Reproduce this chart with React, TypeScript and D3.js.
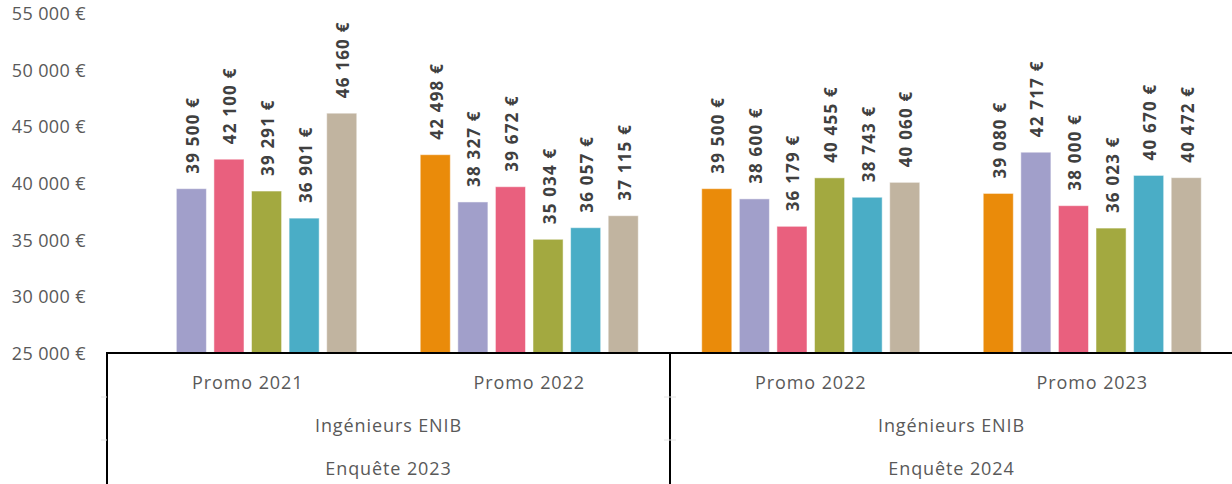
import React from "react";
import * as d3 from "d3";

const promoLabels = ["Promo 2021", "Promo 2022", "Promo 2022", "Promo 2023"];
const populationLabels = ["Ingénieurs ENIB", "Ingénieurs ENIB"];
const surveyLabels = ["Enquête 2023", "Enquête 2024"];
const seriesColors = ["#EA8B0A", "#A19FCA", "#E9607E", "#A3A940", "#4AADC6", "#C1B4A0"];

const group1 = [null, 39500, 42100, 39291, 36901, 46160];
const group2 = [42498, 38327, 39672, 35034, 36057, 37115];
const group3 = [39500, 38600, 36179, 40455, 38743, 40060];
const group4 = [39080, 42717, 38000, 36023, 40670, 40472];
const groups: (number | null)[][] = [group1, group2, group3, group4];

const yTicks = [25000, 30000, 35000, 40000, 45000, 50000, 55000];

const W = 1232;
const H = 484;
const FONT = "'Open Sans', 'Noto Sans', sans-serif";

const fmt = (v: number) => {
  const s = String(Math.round(v));
  return s.replace(/\B(?=(\d{3})+(?!\d))/g, " ") + " €";
};

export default function App() {
  const left = 107;
  const right = 1233;
  const axisY = 353;
  const y = d3.scaleLinear().domain([25000, 55000]).range([axisY, 13]);
  const xg = d3.scaleBand<number>().domain(d3.range(groups.length)).range([left, right]).paddingInner(0).paddingOuter(0);
  const xs = d3.scaleBand<number>().domain(d3.range(6)).range([0, xg.bandwidth()]).paddingInner(0.2).paddingOuter(0.844);

  const row1Y = 382;
  const row2Y = 425;
  const row3Y = 468;
  const catStyle = { fontSize: 18, letterSpacing: "0.9px" } as const;

  return (
    <svg width={W} height={H} style={{ position: "absolute", left: 0, top: 0, background: "#fff" }} fontFamily={FONT}>
      {yTicks.map((t) => (
        <text key={t} x={86} y={y(t)} textAnchor="end" dominantBaseline="central" fontSize={18} letterSpacing="0.4px" fill="#595959">
          {fmt(t)}
        </text>
      ))}
      {groups.map((vals, gi) =>
        vals.map((v, si) => {
          if (v == null) return null;
          const x0 = (xg(gi) as number) + (xs(si) as number);
          const bw = xs.bandwidth();
          const top = y(v);
          return (
            <g key={`${gi}-${si}`}>
              <rect x={x0} y={top} width={bw} height={axisY - top} fill={seriesColors[si]} stroke="#ffffff" strokeOpacity={0.5} strokeWidth={1} />
              <text
                transform={`translate(${x0 + bw / 2 + 1},${top - 15}) rotate(-90)`}
                textAnchor="start"
                dominantBaseline="central"
                fontSize={17}
                fontWeight="bold"
                letterSpacing="1.2px"
                fill="#404040"
              >
                {fmt(v)}
              </text>
            </g>
          );
        })
      )}
      <line x1={left} x2={right} y1={axisY} y2={axisY} stroke="#000" strokeWidth={2} />
      {[left, xg(2) as number].map((x, i) => (
        <line key={i} x1={x} x2={x} y1={axisY - 1} y2={H} stroke="#000" strokeWidth={2} />
      ))}
      {[397, 440].map((yy) => (
        <g key={yy}>
          <line x1={left - 6} x2={left} y1={yy} y2={yy} stroke="#e4e4e4" strokeWidth={1} />
          <line x1={(xg(2) as number) - 6} x2={(xg(2) as number) + 6} y1={yy} y2={yy} stroke="#e4e4e4" strokeWidth={1} />
        </g>
      ))}
      {promoLabels.map((p, i) => (
        <text key={i} x={(xg(i) as number) + xg.bandwidth() / 2} y={row1Y} textAnchor="middle" dominantBaseline="central" fill="#595959" {...catStyle}>
          {p}
        </text>
      ))}
      {populationLabels.map((p, i) => (
        <text key={i} x={(xg(i * 2) as number) + xg.bandwidth()} y={row2Y} textAnchor="middle" dominantBaseline="central" fill="#595959" {...catStyle}>
          {p}
        </text>
      ))}
      {surveyLabels.map((p, i) => (
        <text key={i} x={(xg(i * 2) as number) + xg.bandwidth()} y={row3Y} textAnchor="middle" dominantBaseline="central" fill="#595959" {...catStyle}>
          {p}
        </text>
      ))}
    </svg>
  );
}
